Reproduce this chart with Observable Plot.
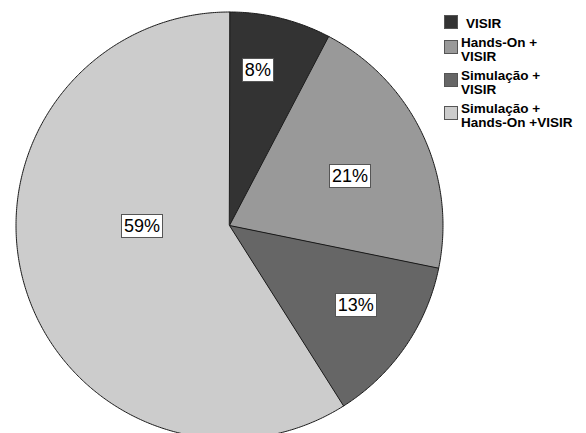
<!DOCTYPE html>
<html><head><meta charset="utf-8">
<script src="https://cdn.jsdelivr.net/npm/d3@7"></script>
<script src="https://cdn.jsdelivr.net/npm/@observablehq/plot@0.6"></script>
<style>html,body{margin:0;padding:0;background:#fff;} #chart{width:586px;height:433px;overflow:hidden;}</style>
</head><body><div id="chart"></div>
<script>
// ---- data ----
const categories = ["VISIR", "Hands-On + VISIR", "Simulação + VISIR", "Simulação + Hands-On +VISIR"];
const counts = [3, 8, 5, 23];
const legendLines = [["VISIR"], ["Hands-On +", "VISIR"], ["Simulação +", "VISIR"], ["Simulação +", "Hands-On +VISIR"]];
const sliceColors = ["#333333", "#999999", "#666666", "#cccccc"];

// ---- layout (label nudges, as in the original) ----
const LABEL_RADIUS = [0.74, 0.61, 0.70, 0.41];
const LABEL_TURN = [-3.5, 3.2, -2.3, 15.7];
const FONT = "'Liberation Sans', Arial, sans-serif";

const total = d3.sum(counts);
let acc = 0;
const slices = categories.map((c, i) => {
  const a0 = acc / total * 360; acc += counts[i]; const a1 = acc / total * 360;
  return {cat: c, a0, a1, i};
});
const rad = (a) => a * Math.PI / 180;
const arcPts = slices.flatMap((s) => {
  const n = Math.max(2, Math.ceil((s.a1 - s.a0) / 0.5));
  const pts = [{cat: s.cat, x: 0, y: 0}];
  for (let k = 0; k <= n; k++) {
    const a = rad(s.a0 + (s.a1 - s.a0) * k / n);
    pts.push({cat: s.cat, x: Math.sin(a), y: Math.cos(a)});
  }
  return pts;
});
const labels = slices.map((s) => {
  const a = rad((s.a0 + s.a1) / 2 + LABEL_TURN[s.i]);
  const r = LABEL_RADIUS[s.i];
  return {x: r * Math.sin(a), y: r * Math.cos(a), text: Math.round(counts[s.i] / total * 100) + "%"};
});

const measure = (() => { const c = document.createElement("canvas").getContext("2d"); return (t, f) => { c.font = f; return c.measureText(t).width; }; })();

function labelBoxes(index, scales) {
  const g = d3.create("svg:g");
  for (const l of labels) {
    const px = scales.x(l.x), py = scales.y(l.y);
    const w = Math.round(measure(l.text, "18px " + FONT) + 5), h = 23;
    g.append("rect").attr("x", Math.round(px - w / 2) + 0.5).attr("y", Math.round(py - h / 2) + 0.5)
      .attr("width", w).attr("height", h).attr("fill", "#fff").attr("stroke", "#555").attr("stroke-width", 1);
  }
  return g.node();
}

function legend(index, scales) {
  const color = (scales && typeof scales.color === "function") ? scales.color : d3.scaleOrdinal(categories, sliceColors);
  const g = d3.create("svg:g").attr("font-family", FONT).attr("font-size", 13.5).attr("font-weight", "bold").attr("text-anchor", "start");
  let base = 28;
  categories.forEach((c, i) => {
    const lines = legendLines[i];
    const lh = 14;
    const first = base, last = base + (lines.length - 1) * lh;
    const cy = lines.length === 1 ? first - 7 : (first + last) / 2 - 8;
    g.append("rect").attr("x", 444.5).attr("y", Math.round(cy - 6.5) + 0.5).attr("width", 13).attr("height", 13)
      .attr("fill", color(c)).attr("stroke", "#555").attr("stroke-width", 1);
    lines.forEach((t, j) => {
      g.append("text").attr("x", lines.length === 1 ? 466 : 461).attr("y", first + j * lh).attr("fill", "#000").attr("text-anchor", "start").text(t);
    });
    base = last + 19;
  });
  return g.node();
}

const chart = Plot.plot({
  width: 586,
  height: 433,
  margin: 0,
  style: {fontFamily: FONT, background: "#fff", overflow: "hidden"},
  x: {domain: [-1, 1], range: [15.5, 442.5], axis: null},
  y: {domain: [-1, 1], range: [438.5, 11.5], axis: null},
  color: {domain: categories, range: sliceColors},
  marks: [
    Plot.line(arcPts, {x: "x", y: "y", z: "cat", fill: "cat", stroke: "#1a1a1a", strokeWidth: 1, curve: "linear-closed"}),
    labelBoxes,
    Plot.text(labels, {x: "x", y: "y", text: "text", fontSize: 18, fill: "#000", fontFamily: FONT}),
    legend
  ]
});
document.getElementById("chart").appendChild(chart);
</script>
</body></html>
